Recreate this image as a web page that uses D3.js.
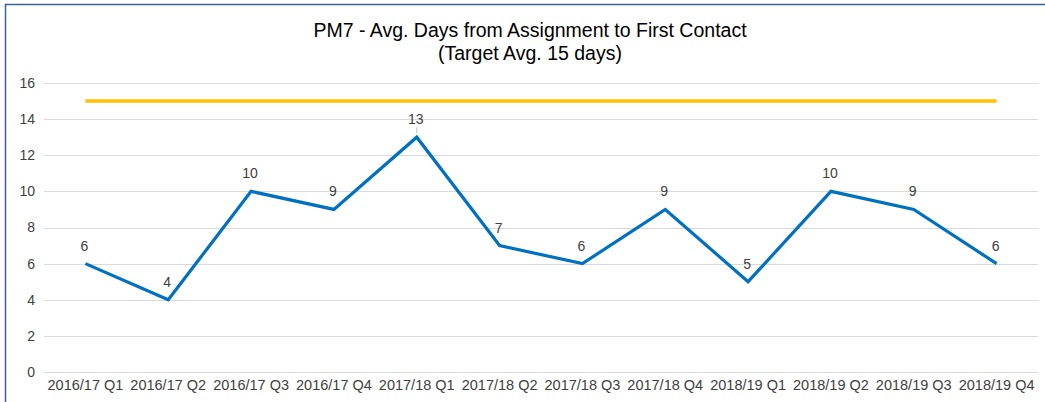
<!DOCTYPE html>
<html>
<head>
<meta charset="utf-8">
<script src="https://cdn.jsdelivr.net/npm/d3@7"></script>
<style>
  body { margin: 0; background: #fff; }
</style>
</head>
<body>
<script>
var quarters = ["2016/17 Q1", "2016/17 Q2", "2016/17 Q3", "2016/17 Q4",
                "2017/18 Q1", "2017/18 Q2", "2017/18 Q3", "2017/18 Q4",
                "2018/19 Q1", "2018/19 Q2", "2018/19 Q3", "2018/19 Q4"];
var avgDays = [6, 4, 10, 9, 13, 7, 6, 9, 5, 10, 9, 6];
var target = [15, 15, 15, 15, 15, 15, 15, 15, 15, 15, 15, 15];
var yTicks = [0, 2, 4, 6, 8, 10, 12, 14, 16];
var titleLines = ["PM7 - Avg. Days from Assignment to First Contact",
                  "(Target Avg. 15 days)"];

var width = 1045, height = 402;
var margin = {top: 83, right: 7, bottom: 30, left: 44};

var svg = d3.select("body").append("svg")
    .attr("width", width)
    .attr("height", height);

// chart frame (right and bottom edges are cut off in the original)
svg.append("rect")
    .attr("x", 5.5).attr("y", 4.5)
    .attr("width", width + 10).attr("height", height + 10)
    .attr("fill", "#fff")
    .attr("stroke", "#3d5f95")
    .attr("stroke-width", 1.5);

var x = d3.scaleBand()
    .domain(quarters)
    .range([margin.left, width - margin.right]);

var y = d3.scaleLinear()
    .domain([0, 16])
    .range([height - margin.bottom, margin.top]);

var cx = function(d, i) { return x(quarters[i]) + x.bandwidth() / 2; };

var labelFont = "'Liberation Sans', Arial, sans-serif";

// gridlines
svg.append("g")
  .selectAll("line")
    .data(yTicks)
  .enter().append("line")
    .attr("x1", margin.left)
    .attr("x2", width - margin.right)
    .attr("y1", function(d) { return Math.round(y(d)) + 0.5; })
    .attr("y2", function(d) { return Math.round(y(d)) + 0.5; })
    .attr("stroke", "#d9d9d9")
    .attr("stroke-width", 1);

// y axis labels
var yAxis = svg.append("g")
    .attr("transform", "translate(" + (margin.left - 9) + ",0)")
    .call(d3.axisLeft(y).tickValues(yTicks).tickSize(0).tickPadding(0));
yAxis.select(".domain").remove();
yAxis.selectAll("text")
    .attr("fill", "#404040")
    .style("font-family", labelFont)
    .style("font-size", "14px");

// x axis labels
var xAxis = svg.append("g")
    .attr("transform", "translate(0," + (height - margin.bottom) + ")")
    .call(d3.axisBottom(x).tickSize(0).tickPadding(8));
xAxis.select(".domain").remove();
xAxis.selectAll("text")
    .attr("fill", "#404040")
    .style("font-family", labelFont)
    .style("font-size", "14.5px");

// target line
var line = d3.line()
    .x(cx)
    .y(function(d) { return y(d); });

svg.append("path")
    .datum(target)
    .attr("d", line)
    .attr("fill", "none")
    .attr("stroke", "#ffc000")
    .attr("stroke-width", 3.5);

// leader line for the 13 label
svg.append("line")
    .attr("x1", cx(13, 4)).attr("x2", cx(13, 4))
    .attr("y1", y(avgDays[4]) - 10).attr("y2", y(avgDays[4]) - 4)
    .attr("stroke", "#bfbfbf")
    .attr("stroke-width", 1);

// data series
svg.append("path")
    .datum(avgDays)
    .attr("d", line)
    .attr("fill", "none")
    .attr("stroke", "#0070c0")
    .attr("stroke-width", 3.2)
    .attr("stroke-linejoin", "miter");

// data labels
svg.append("g")
  .selectAll("text")
    .data(avgDays)
  .enter().append("text")
    .attr("x", function(d, i) { return cx(d, i) - 1; })
    .attr("y", function(d) { return y(d) - 13; })
    .attr("text-anchor", "middle")
    .attr("fill", "#404040")
    .style("font-family", labelFont)
    .style("font-size", "14px")
    .text(function(d) { return d; });

// title
svg.append("g")
  .selectAll("text")
    .data(titleLines)
  .enter().append("text")
    .attr("x", 530)
    .attr("y", function(d, i) { return 37 + i * 23; })
    .attr("text-anchor", "middle")
    .attr("fill", "#000")
    .style("font-family", labelFont)
    .style("font-size", "19.5px")
    .text(function(d) { return d; });
</script>
</body>
</html>
